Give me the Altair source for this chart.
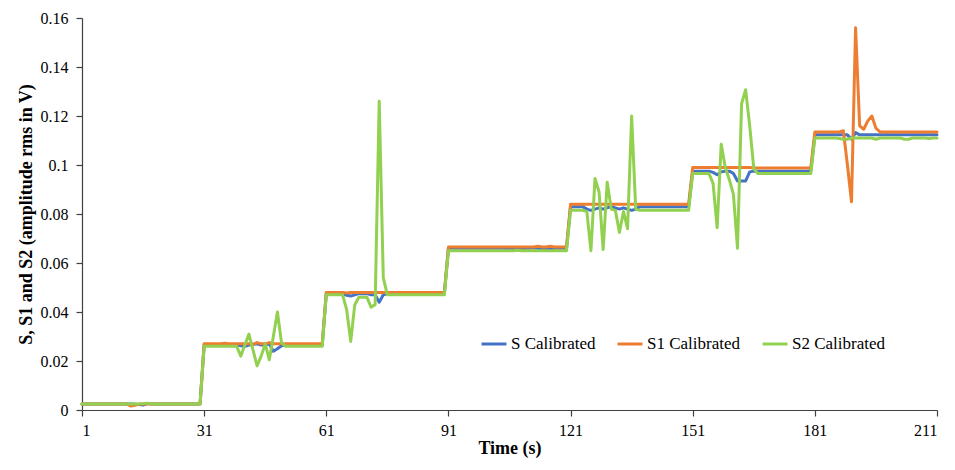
import altair as alt
import pandas as pd

series_names = ["S Calibrated", "S1 Calibrated", "S2 Calibrated"]
series_colors = ["#4472C4", "#ED7D31", "#92D050"]

x_ticks = [1, 31, 61, 91, 121, 151, 181, 211]
y_ticks = [0, 0.02, 0.04, 0.06, 0.08, 0.1, 0.12, 0.14, 0.16]

time_s = list(range(1, 212))

s_cal = [
    0.0025, 0.0025, 0.0025, 0.0025, 0.0025, 0.0025, 0.0025, 0.0025, 0.0025, 0.0025,
    0.0025, 0.0025, 0.0025, 0.0024, 0.0022, 0.0020, 0.0026, 0.0025, 0.0025, 0.0025,
    0.0025, 0.0025, 0.0025, 0.0025, 0.0025, 0.0025, 0.0025, 0.0025, 0.0025, 0.0025,
    0.0265, 0.0265, 0.0265, 0.0265, 0.0265, 0.0265, 0.0265, 0.0265, 0.0265, 0.0262,
    0.0260, 0.0265, 0.0268, 0.0270, 0.0265, 0.0265, 0.0270, 0.0240, 0.0250, 0.0262,
    0.0265, 0.0265, 0.0265, 0.0265, 0.0265, 0.0265, 0.0265, 0.0265, 0.0265, 0.0265,
    0.0475, 0.0475, 0.0475, 0.0475, 0.0475, 0.0468, 0.0465, 0.0470, 0.0475, 0.0475,
    0.0475, 0.0470, 0.0470, 0.0440, 0.0470, 0.0475, 0.0475, 0.0475, 0.0475, 0.0475,
    0.0475, 0.0475, 0.0475, 0.0475, 0.0475, 0.0475, 0.0475, 0.0475, 0.0475, 0.0475,
    0.0660, 0.0660, 0.0660, 0.0660, 0.0660, 0.0660, 0.0660, 0.0660, 0.0660, 0.0660,
    0.0660, 0.0660, 0.0660, 0.0660, 0.0660, 0.0655, 0.0660, 0.0660, 0.0655, 0.0660,
    0.0660, 0.0662, 0.0660, 0.0655, 0.0660, 0.0658, 0.0660, 0.0660, 0.0660, 0.0660,
    0.0830, 0.0830, 0.0830, 0.0830, 0.0820, 0.0815, 0.0820, 0.0825, 0.0820, 0.0825,
    0.0830, 0.0825, 0.0820, 0.0825, 0.0820, 0.0815, 0.0820, 0.0830, 0.0830, 0.0830,
    0.0830, 0.0830, 0.0830, 0.0830, 0.0830, 0.0830, 0.0830, 0.0830, 0.0830, 0.0830,
    0.0975, 0.0975, 0.0975, 0.0975, 0.0975, 0.0970, 0.0960, 0.0972, 0.0975, 0.0975,
    0.0965, 0.0935, 0.0935, 0.0935, 0.0972, 0.0975, 0.0975, 0.0975, 0.0975, 0.0975,
    0.0975, 0.0975, 0.0975, 0.0975, 0.0975, 0.0975, 0.0975, 0.0975, 0.0975, 0.0975,
    0.1123, 0.1123, 0.1123, 0.1123, 0.1123, 0.1123, 0.1123, 0.1123, 0.1123, 0.1105,
    0.1132, 0.1123, 0.1123, 0.1123, 0.1123, 0.1123, 0.1123, 0.1123, 0.1123, 0.1123,
    0.1123, 0.1123, 0.1123, 0.1123, 0.1123, 0.1123, 0.1123, 0.1123, 0.1123, 0.1123,
    0.1123,
]

s1_cal = [
    0.0025, 0.0025, 0.0025, 0.0025, 0.0025, 0.0025, 0.0025, 0.0025, 0.0025, 0.0025,
    0.0025, 0.0025, 0.0016, 0.0019, 0.0024, 0.0025, 0.0025, 0.0025, 0.0025, 0.0025,
    0.0025, 0.0025, 0.0025, 0.0025, 0.0025, 0.0025, 0.0025, 0.0025, 0.0025, 0.0025,
    0.0270, 0.0270, 0.0270, 0.0270, 0.0270, 0.0272, 0.0270, 0.0270, 0.0270, 0.0270,
    0.0270, 0.0270, 0.0268, 0.0275, 0.0270, 0.0270, 0.0275, 0.0270, 0.0270, 0.0270,
    0.0270, 0.0270, 0.0270, 0.0270, 0.0270, 0.0270, 0.0270, 0.0270, 0.0270, 0.0270,
    0.0480, 0.0480, 0.0480, 0.0480, 0.0480, 0.0478, 0.0480, 0.0480, 0.0480, 0.0480,
    0.0480, 0.0480, 0.0480, 0.0480, 0.0480, 0.0480, 0.0480, 0.0480, 0.0480, 0.0480,
    0.0480, 0.0480, 0.0480, 0.0480, 0.0480, 0.0480, 0.0480, 0.0480, 0.0480, 0.0480,
    0.0665, 0.0665, 0.0665, 0.0665, 0.0665, 0.0665, 0.0665, 0.0665, 0.0665, 0.0665,
    0.0665, 0.0665, 0.0665, 0.0665, 0.0665, 0.0665, 0.0665, 0.0665, 0.0665, 0.0665,
    0.0665, 0.0665, 0.0668, 0.0665, 0.0665, 0.0668, 0.0665, 0.0665, 0.0665, 0.0665,
    0.0840, 0.0840, 0.0840, 0.0840, 0.0840, 0.0840, 0.0840, 0.0840, 0.0840, 0.0840,
    0.0840, 0.0840, 0.0840, 0.0840, 0.0840, 0.0840, 0.0840, 0.0840, 0.0840, 0.0840,
    0.0840, 0.0840, 0.0840, 0.0840, 0.0840, 0.0840, 0.0840, 0.0840, 0.0840, 0.0840,
    0.0990, 0.0990, 0.0990, 0.0990, 0.0990, 0.0990, 0.0990, 0.0990, 0.0990, 0.0990,
    0.0990, 0.0990, 0.0990, 0.0990, 0.0990, 0.0988, 0.0988, 0.0988, 0.0988, 0.0988,
    0.0988, 0.0988, 0.0988, 0.0988, 0.0988, 0.0988, 0.0988, 0.0988, 0.0988, 0.0988,
    0.1135, 0.1135, 0.1135, 0.1135, 0.1135, 0.1135, 0.1135, 0.1140, 0.1000, 0.0850,
    0.1560, 0.1160, 0.1146, 0.1180, 0.1200, 0.1150, 0.1135, 0.1135, 0.1135, 0.1135,
    0.1135, 0.1135, 0.1135, 0.1135, 0.1135, 0.1135, 0.1135, 0.1135, 0.1135, 0.1135,
    0.1135,
]

s2_cal = [
    0.0025, 0.0025, 0.0025, 0.0025, 0.0025, 0.0025, 0.0025, 0.0025, 0.0025, 0.0025,
    0.0025, 0.0025, 0.0025, 0.0025, 0.0025, 0.0026, 0.0028, 0.0025, 0.0025, 0.0025,
    0.0025, 0.0025, 0.0025, 0.0025, 0.0025, 0.0025, 0.0025, 0.0025, 0.0025, 0.0025,
    0.0260, 0.0260, 0.0260, 0.0260, 0.0260, 0.0260, 0.0260, 0.0260, 0.0260, 0.0220,
    0.0265, 0.0310, 0.0245, 0.0180, 0.0220, 0.0270, 0.0205, 0.0300, 0.0400, 0.0275,
    0.0260, 0.0260, 0.0260, 0.0260, 0.0260, 0.0260, 0.0260, 0.0260, 0.0260, 0.0260,
    0.0470, 0.0470, 0.0470, 0.0470, 0.0470, 0.0410, 0.0280, 0.0430, 0.0460, 0.0460,
    0.0460, 0.0420, 0.0430, 0.1260, 0.0540, 0.0470, 0.0470, 0.0470, 0.0470, 0.0470,
    0.0470, 0.0470, 0.0470, 0.0470, 0.0470, 0.0470, 0.0470, 0.0470, 0.0470, 0.0470,
    0.0650, 0.0650, 0.0650, 0.0650, 0.0650, 0.0650, 0.0650, 0.0650, 0.0650, 0.0650,
    0.0650, 0.0650, 0.0650, 0.0650, 0.0650, 0.0650, 0.0650, 0.0652, 0.0650, 0.0650,
    0.0650, 0.0650, 0.0650, 0.0650, 0.0650, 0.0650, 0.0650, 0.0650, 0.0650, 0.0650,
    0.0815, 0.0815, 0.0815, 0.0815, 0.0810, 0.0650, 0.0945, 0.0890, 0.0655, 0.0930,
    0.0820, 0.0815, 0.0725, 0.0810, 0.0740, 0.1200, 0.0820, 0.0815, 0.0815, 0.0815,
    0.0815, 0.0815, 0.0815, 0.0815, 0.0815, 0.0815, 0.0815, 0.0815, 0.0815, 0.0815,
    0.0965, 0.0965, 0.0965, 0.0965, 0.0965, 0.0925, 0.0744, 0.1085, 0.0990, 0.0940,
    0.0880, 0.0660, 0.1250, 0.1307, 0.1160, 0.0985, 0.0965, 0.0965, 0.0965, 0.0965,
    0.0965, 0.0965, 0.0965, 0.0965, 0.0965, 0.0965, 0.0965, 0.0965, 0.0965, 0.0965,
    0.1110, 0.1110, 0.1110, 0.1110, 0.1110, 0.1110, 0.1108, 0.1105, 0.1105, 0.1110,
    0.1110, 0.1110, 0.1110, 0.1110, 0.1110, 0.1105, 0.1110, 0.1110, 0.1110, 0.1110,
    0.1110, 0.1110, 0.1105, 0.1105, 0.1110, 0.1110, 0.1110, 0.1110, 0.1108, 0.1110,
    0.1110,
]

rows = []
for name, vals in zip(series_names, [s_cal, s1_cal, s2_cal]):
    for t, v in zip(time_s, vals):
        rows.append({"time": t, "value": v, "series": name})
df = pd.DataFrame(rows)

FONT = "Liberation Serif"

color_scale = alt.Scale(domain=series_names, range=series_colors)

base = alt.Chart(df).mark_line(strokeWidth=3, strokeJoin="round", strokeCap="round").encode(
    x=alt.X(
        "time:Q",
        scale=alt.Scale(domain=[1, 211], nice=False, zero=False),
        axis=alt.Axis(
            values=x_ticks, title="Time (s)", grid=False,
            titleX=427.5, titleY=43, titleBaseline="alphabetic", titleAlign="center",
            labelPadding=6, tickSize=6,
        ),
    ),
    y=alt.Y(
        "value:Q",
        scale=alt.Scale(domain=[0, 0.16], nice=False),
        axis=alt.Axis(
            values=y_ticks, format=".2~f", title="S, S1 and S2 (amplitude rms in V)", grid=False,
            titleX=-56, titleY=196, titleBaseline="middle", titleAlign="center", titleAngle=-90,
            labelPadding=8, tickSize=6,
        ),
    ),
    color=alt.Color(
        "series:N",
        scale=color_scale,
        legend=alt.Legend(
            title=None, orient="none", legendX=398, legendY=312, direction="horizontal",
            symbolType="stroke", symbolStrokeWidth=3, symbolSize=625,
            labelFont=FONT, labelFontSize=17, labelColor="#000000", labelOffset=3,
            columnPadding=15, padding=0,
        ),
    ),
)

layers = [base.transform_filter(alt.datum.series == s) for s in series_names]

chart = alt.layer(*layers).properties(
    width=855,
    height=392,
    padding={"left": 74, "top": 10, "right": 10, "bottom": 50},
    autosize=alt.AutoSizeParams(type="none"),
).configure(
    font=FONT
).configure_view(
    stroke=None
).configure_axis(
    domainColor="#404040", tickColor="#404040", domainWidth=1.2, tickWidth=1.2,
    labelFont=FONT, labelFontSize=16, labelColor="#000000",
    titleFont=FONT, titleFontSize=18, titleFontWeight="bold", titleColor="#000000",
)

chart.save("out.html", embed_options={"renderer": "svg", "actions": False})
